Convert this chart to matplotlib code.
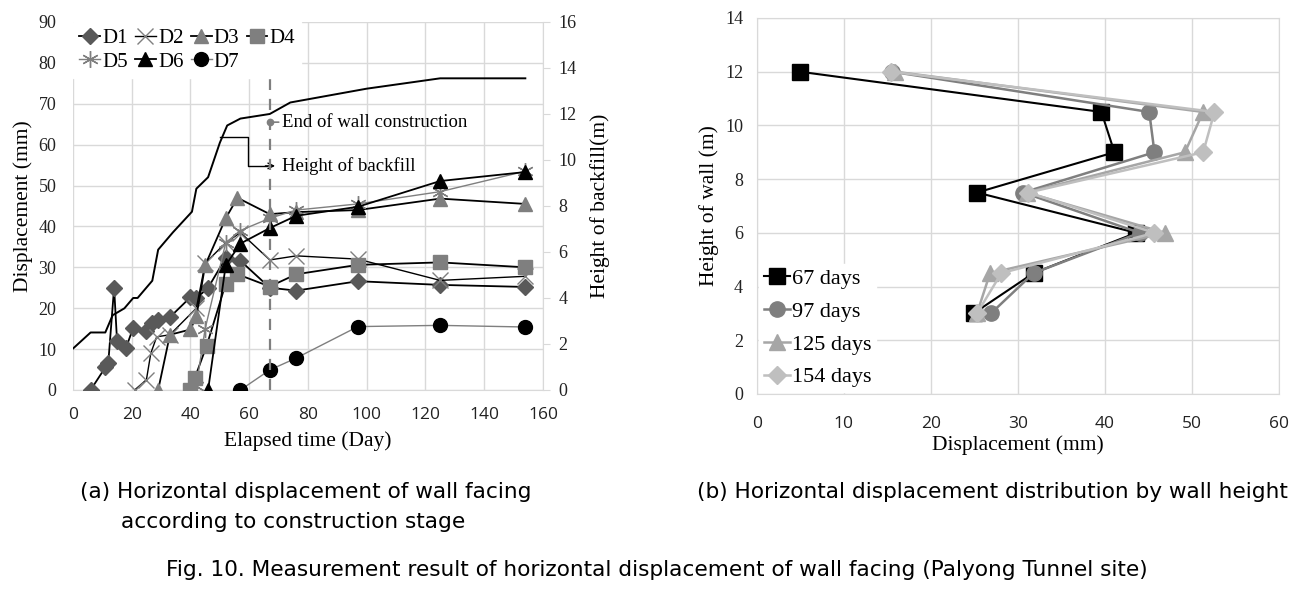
import matplotlib.pyplot as plt

# ---- data: (a) displacement vs elapsed time ----
d1_day = [6, 11, 12, 14, 15, 18, 20.5, 25, 27, 29, 33, 40, 42, 46, 52, 57, 67, 76, 97, 125, 154]
d1_val = [0, 5.5, 6.5, 25, 12, 10.2, 15.2, 14.5, 16.3, 17.1, 17.8, 22.7, 22.4, 25, 32.3, 31.6, 25, 24.3, 26.6, 25.7, 25.2]
d2_day = [21, 25, 26.5, 28.5, 33, 42, 45, 52, 57, 67, 76, 97, 125, 154]
d2_val = [0, 2.5, 9, 13, 13.5, 20, 31, 36, 38.5, 31.8, 32.8, 32, 26.8, 27.8]
d3_day = [29, 33, 40, 42, 45, 52, 56, 67, 76, 97, 125, 154]
d3_val = [0, 13.5, 14.8, 18, 30.5, 42, 47, 43, 43.5, 44, 46.8, 45.5]
d4_day = [40, 41.5, 45.5, 52, 56, 67, 76, 97, 125, 154]
d4_val = [0, 3, 10.8, 26, 28.3, 25.3, 28.3, 30.6, 31.2, 30]
d5_day = [40, 42, 45, 52, 57, 67, 76, 97, 125, 154]
d5_val = [0, 1, 15, 36, 39, 42, 44, 45.5, 48.5, 53.5]
d6_day = [46, 52, 57, 67, 76, 97, 125, 154]
d6_val = [0, 30.5, 35.8, 39.6, 42.6, 44.8, 51.1, 53.3]
d7_day = [57, 67, 76, 97, 125, 154]
d7_val = [0, 4.9, 7.8, 15.5, 15.8, 15.4]

backfill_day = [0, 6, 11, 13.5, 17.5, 20.5, 22, 27, 29, 34, 40.5, 42, 46, 50, 52.5, 57, 67, 74, 100, 125, 154]
backfill_h = [1.8, 2.5, 2.5, 3.25, 3.55, 4.0, 4.0, 4.75, 6.1, 6.85, 7.75, 8.75, 9.25, 10.75, 11.5, 11.8, 12.0, 12.5, 13.1, 13.55, 13.55]

wall_end_day = 67

# ---- data: (b) displacement vs wall height ----
wall_height = [12, 10.5, 9, 7.5, 6, 4.5, 3]
disp_67 = [4.9, 39.6, 41.1, 25.3, 43.6, 31.8, 24.9]
disp_97 = [15.5, 45.1, 45.7, 30.6, 44.0, 31.8, 26.9]
disp_125 = [15.9, 51.3, 49.2, 31.0, 46.9, 26.8, 25.3]
disp_154 = [15.4, 52.6, 51.3, 31.2, 45.7, 28.1, 25.3]

serif = 'Liberation Serif'
sans = 'Open Sans'
grid_c = '#d9d9d9'

fig = plt.figure(figsize=(13.08, 5.89), dpi=100)

# =============== (a) ===============
ax = fig.add_axes([0.0558, 0.3379, 0.3593, 0.6248])
ax2 = ax.twinx()

ax.grid(True, color=grid_c, lw=1)
ax.set_axisbelow(True)
for s in ['top', 'left', 'right']:
    ax.spines[s].set_visible(False)
ax.spines['bottom'].set_color(grid_c)
for s in ['top', 'left', 'bottom']:
    ax2.spines[s].set_visible(False)
ax2.spines['right'].set_color(grid_c)

ax.set_xlim(0, 160)
ax.set_ylim(0, 90)
ax.set_xticks(range(0, 161, 20))
ax.set_yticks(range(0, 91, 10))
ax2.set_ylim(0, 16)
ax2.set_yticks(range(0, 17, 2))
ax.tick_params(axis='x', length=0, pad=12)
ax.tick_params(axis='y', length=0, pad=12)
ax2.tick_params(axis='y', length=5, color=grid_c, pad=6)
for t in ax.get_xticklabels():
    t.set_fontfamily(sans)
    t.set_fontsize(12.5)
    t.set_color('#222222')
for t in ax.get_yticklabels() + ax2.get_yticklabels():
    t.set_fontfamily(serif)
    t.set_fontsize(13)
    t.set_color('#222222')

lw = 1.3
h1, = ax.plot(d1_day, d1_val, color='black', lw=lw, marker='D', ms=8, mfc='#595959', mec='#595959', label='D1', zorder=3)
h2, = ax.plot(d2_day, d2_val, color='black', lw=1.0, marker='x', ms=11, mew=1.0, mec='#7f7f7f', label='D2', zorder=3)
h3, = ax.plot(d3_day, d3_val, color='black', lw=lw, marker='^', ms=10, mfc='#7f7f7f', mec='#7f7f7f', label='D3', zorder=3)
h4, = ax.plot(d4_day, d4_val, color='black', lw=lw, marker='s', ms=10, mfc='#7f7f7f', mec='#7f7f7f', label='D4', zorder=3)
h5, = ax.plot(d5_day, d5_val, color='#7f7f7f', lw=1.0, marker=(6, 2, 0), ms=12, mew=1.0, mec='#7f7f7f', label='D5', zorder=3)
h6, = ax.plot(d6_day, d6_val, color='black', lw=lw, marker='^', ms=10, mfc='black', mec='black', label='D6', zorder=3)
h7, = ax.plot(d7_day, d7_val, color='#7f7f7f', lw=1.0, marker='o', ms=10, mfc='black', mec='black', label='D7', zorder=3)

ax.plot([wall_end_day, wall_end_day], [0, 76], color='#7f7f7f', lw=1.6, ls=(0, (5, 4)), zorder=4)

ax2.plot(backfill_day, backfill_h, color='black', lw=1.4)

# annotations
ax.plot(wall_end_day, 65.5, 'o', ms=4.5, color='#7f7f7f', zorder=5)
ax.annotate('End of wall construction', xy=(wall_end_day, 65.5), xytext=(71, 65.5),
            va='center', ha='left', fontfamily=serif, fontsize=13.5,
            arrowprops=dict(arrowstyle='-', color='#7f7f7f', lw=1.2, shrinkA=0, shrinkB=0))
ax.plot([50, 59.6, 59.6, 66], [61.9, 61.9, 54.8, 54.8], color='black', lw=1.0)
ax.annotate('Height of backfill', xy=(68.5, 54.8), xytext=(71, 54.8),
            va='center', ha='left', fontfamily=serif, fontsize=13.5)
ax.annotate('', xy=(68.8, 54.8), xytext=(65.5, 54.8),
            arrowprops=dict(arrowstyle='->', color='black', lw=1.0, shrinkA=0, shrinkB=0))

ax.set_xlabel('Elapsed time (Day)', fontfamily=serif, fontsize=15.5, labelpad=6)
ax.set_ylabel('Displacement (mm)', fontfamily=serif, fontsize=15.5, labelpad=4)
ax2.set_ylabel('Height of backfill(m)', fontfamily=serif, fontsize=15.5, labelpad=10)

# column-major fill -> rows D1..D4 / D5..D7
leg = ax.legend([h1, h5, h2, h6, h3, h7, h4], ['D1', 'D5', 'D2', 'D6', 'D3', 'D7', 'D4'],
                loc='upper left', ncol=4, frameon=True, fancybox=False, edgecolor='white',
                framealpha=1, prop={'family': serif, 'size': 15}, handlelength=1.0,
                handletextpad=0.1, columnspacing=0.35, labelspacing=0.2,
                borderaxespad=0.0, borderpad=0.3, bbox_to_anchor=(0.0, 1.0))
leg.set_zorder(10)

# =============== (b) ===============
bx = fig.add_axes([0.5787, 0.3311, 0.399, 0.6384])
bx.grid(True, color=grid_c, lw=1)
bx.set_axisbelow(True)
for s in bx.spines.values():
    s.set_color(grid_c)
bx.set_xlim(0, 60)
bx.set_ylim(0, 14)
bx.set_xticks(range(0, 61, 10))
bx.set_yticks(range(0, 15, 2))
bx.tick_params(axis='x', length=0, pad=16)
bx.tick_params(axis='y', length=0, pad=10)
for t in bx.get_xticklabels():
    t.set_fontfamily(sans)
    t.set_fontsize(12.5)
    t.set_color('#222222')
for t in bx.get_yticklabels():
    t.set_fontfamily(serif)
    t.set_fontsize(13)
    t.set_color('#222222')

bx.plot(disp_67, wall_height, color='black', lw=1.5, marker='s', ms=12, mfc='black', mec='black', label='67 days')
bx.plot(disp_97, wall_height, color='#7f7f7f', lw=1.8, marker='o', ms=11, mfc='#7f7f7f', mec='#7f7f7f', label='97 days')
bx.plot(disp_125, wall_height, color='#a6a6a6', lw=1.8, marker='^', ms=11, mfc='#a6a6a6', mec='#a6a6a6', label='125 days')
bx.plot(disp_154, wall_height, color='#bfbfbf', lw=1.8, marker='D', ms=9, mfc='#bfbfbf', mec='#bfbfbf', label='154 days')

bx.set_xlabel('Displacement (mm)', fontfamily=serif, fontsize=15.5, labelpad=2)
bx.set_ylabel('Height of wall (m)', fontfamily=serif, fontsize=15.5, labelpad=4)
leg2 = bx.legend(loc='lower left', frameon=True, fancybox=False, edgecolor='white', framealpha=1,
                 prop={'family': serif, 'size': 16}, handlelength=1.2, handletextpad=0.1,
                 labelspacing=0.55, borderaxespad=0.1, borderpad=0.2, bbox_to_anchor=(0.0, 0.0))

# =============== captions ===============
cap = 'DejaVu Sans'
fig.text(80 / 1308, 1 - 492 / 589, '(a) Horizontal displacement of wall facing', family=cap,
         fontsize=15.6, ha='left', va='center')
fig.text(121 / 1308, 1 - 522 / 589, 'according to construction stage', family=cap,
         fontsize=15.6, ha='left', va='center')
fig.text(697 / 1308, 1 - 492 / 589, '(b) Horizontal displacement distribution by wall height', family=cap,
         fontsize=15.6, ha='left', va='center')
fig.text(657 / 1308, 1 - 570 / 589, 'Fig. 10. Measurement result of horizontal displacement of wall facing (Palyong Tunnel site)',
         family=cap, fontsize=15.6, ha='center', va='center')

fig.savefig('out.png', dpi=100)
